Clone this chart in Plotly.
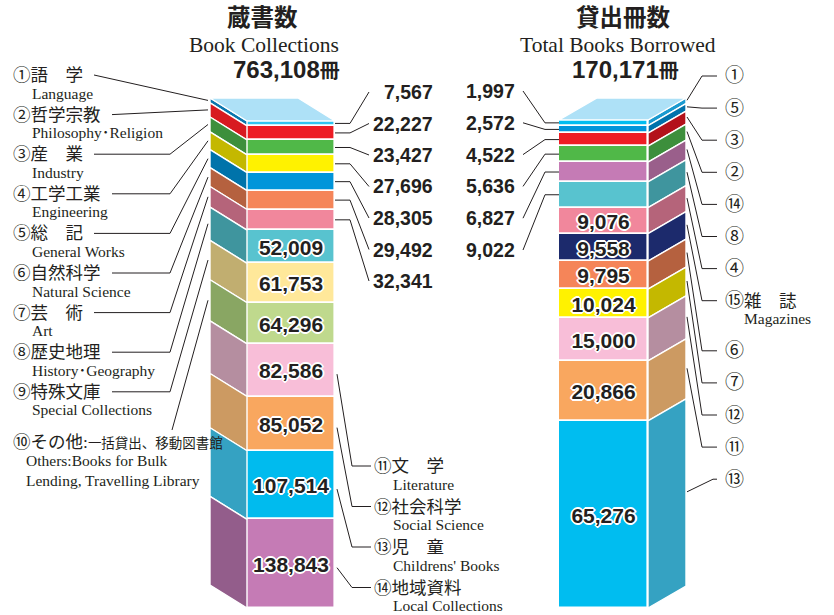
import plotly.graph_objects as go

# ---------------- data ----------------
col_jp = ["①語　学", "②哲学宗教", "③産　業", "④工学工業", "⑤総　記", "⑥自然科学",
          "⑦芸　術", "⑧歴史地理", "⑨特殊文庫", "⑩その他:", "⑪文　学", "⑫社会科学",
          "⑬児　童", "⑭地域資料"]
col_en = ["Language", "Philosophy･Religion", "Industry", "Engineering", "General Works",
          "Natural Science", "Art", "History･Geography", "Special Collections",
          "Others:Books for Bulk<br>Lending, Travelling Library", "Literature",
          "Social Science", "Childrens' Books", "Local Collections"]
col_jp_extra = "一括貸出、移動図書館"
col_values = [7567, 22227, 23427, 27696, 28305, 29492, 32341, 52009, 61753, 64296,
              82586, 85052, 107514, 138843]

bor_labels = ["①", "⑤", "③", "②", "⑭", "⑧", "④", "⑮", "⑥", "⑦", "⑫", "⑪", "⑬"]
bor_extra_jp = "雑　誌"
bor_extra_en = "Magazines"
bor_values = [1997, 2572, 4522, 5636, 6827, 9022, 9076, 9558, 9795, 10024, 15000,
              20866, 65276]

titles_jp = ["蔵書数", "貸出冊数"]
titles_en = ["Book Collections", "Total Books Borrowed"]
unit = "冊"

# ---------------- style ----------------
col_front = ["#2ec4f1", "#ed1c24", "#50b848", "#fff200", "#0095da", "#f58559", "#f1879c",
             "#58c3cf", "#ffe89a", "#bfd98d", "#f8bed8", "#f9a75f", "#00bbee", "#c57bb5"]
col_side = ["#0a76ae", "#d81a21", "#3d8f3c", "#c4b800", "#0073aa", "#b5613f", "#b5647a",
            "#3f959e", "#c1ae70", "#89a663", "#b58ea0", "#cc9a62", "#35a2c2", "#935d8b"]
bor_front = ["#00bdf0", "#0095da", "#ed1c24", "#50b848", "#c57bb5", "#58c3cf", "#f1879c",
             "#1c2a6c", "#f58559", "#fff200", "#f8bed8", "#f9a75f", "#00bdf0"]
bor_side = ["#1a9ad0", "#0072ab", "#b3111a", "#3d8f3c", "#9a5f8b", "#3f959e", "#b5647a",
            "#1c2a6c", "#b5613f", "#c4b800", "#b58ea0", "#cc9a62", "#35a2c2"]
TOPCOL = "#aee1f7"
INK = "#231f20"

W, H = 834, 615
BOT = 608
L_TOP, L_FL, L_FR, L_DX, L_DYPX = 121, 247, 335, -37, 23
R_TOP, R_FL, R_FR, R_DX, R_DYPX = 120, 559, 648, 38, 22

NUM_FONT = "Liberation Sans, Arial, sans-serif"
SERIF = "Liberation Serif, Noto Sans CJK JP, serif"
CJK = "Noto Sans CJK JP, sans-serif"
HALO = "1px 1px 0 #fff, -1px -1px 0 #fff, 1px -1px 0 #fff, -1px 1px 0 #fff, 0 2px 0 #fff, 0 -2px 0 #fff, 2px 0 0 #fff, -2px 0 0 #fff"


def paper(p):
    return 1 - p / H


def stack(values):
    total = sum(values)
    bases, cum = [], 0
    for v in values:
        cum += v
        bases.append(total - cum)
    return total, bases


TL, basesL = stack(col_values)
TR, basesR = stack(bor_values)
sL = TL / (BOT - L_TOP)
sR = TR / (BOT - R_TOP)
dyL = L_DYPX * sL
dyR = R_DYPX * sR


def vL(p):
    return (BOT - p) * sL


def vR(p):
    return (BOT - p) * sR


fig = go.Figure()

# ---- front faces (bars) ----
fig.add_trace(go.Bar(x=[(L_FL + L_FR) / 2] * len(col_values), y=col_values, base=basesL,
                     width=L_FR - L_FL, marker=dict(color=col_front, line=dict(color="white", width=1.6)),
                     yaxis="y", hoverinfo="skip", showlegend=False))
fig.add_trace(go.Bar(x=[(R_FL + R_FR) / 2] * len(bor_values), y=bor_values, base=basesR,
                     width=R_FR - R_FL, marker=dict(color=bor_front, line=dict(color="white", width=1.6)),
                     yaxis="y2", hoverinfo="skip", showlegend=False))


# ---- side faces + top faces ----
def side_faces(values, bases, colors, xf, dx, dy, yax):
    for v, b, c in zip(values, bases, colors):
        fig.add_trace(go.Scatter(x=[xf, xf, xf + dx, xf + dx, xf], y=[b, b + v, b + v + dy, b + dy, b],
                                 fill="toself", fillcolor=c, mode="lines",
                                 line=dict(color="white", width=1.4), yaxis=yax,
                                 hoverinfo="skip", showlegend=False))


side_faces(col_values, basesL, col_side, L_FL, L_DX, dyL, "y")
side_faces(bor_values, basesR, bor_side, R_FR, R_DX, dyR, "y2")

fig.add_trace(go.Scatter(x=[L_FL, L_FR, L_FR + L_DX, L_FL + L_DX, L_FL], y=[TL, TL, TL + dyL, TL + dyL, TL],
                         fill="toself", fillcolor=TOPCOL, mode="lines", line=dict(color="white", width=1.4),
                         yaxis="y", hoverinfo="skip", showlegend=False))
fig.add_trace(go.Scatter(x=[R_FL, R_FR, R_FR + R_DX, R_FL + R_DX, R_FL], y=[TR, TR, TR + dyR, TR + dyR, TR],
                         fill="toself", fillcolor=TOPCOL, mode="lines", line=dict(color="white", width=1.4),
                         yaxis="y2", hoverinfo="skip", showlegend=False))

ann = []


def A(text, x, p, size, family=SERIF, xanchor="left", weight=None, color=INK, align="left"):
    f = dict(size=size, family=family, color=color)
    if weight:
        f["weight"] = weight
    ann.append(dict(text=text, x=x, y=paper(p), xref="x", yref="paper", showarrow=False,
                    xanchor=xanchor, yanchor="middle", font=f, align=align, borderpad=0))


# ---- titles ----
A(titles_jp[0], 262, 16, 23.5, CJK, "center", 700)
A(titles_en[0], 188, 45, 21.5, SERIF, "left")
A(f"{TL:,}<span style='font-family:Noto Sans CJK JP;font-size:20px'>{unit}</span>", 286, 70, 24, NUM_FONT, "center", 700)
A(titles_jp[1], 623, 16, 23.5, CJK, "center", 700)
A(titles_en[1], 519, 45, 21.5, SERIF, "left")
A(f"{TR:,}<span style='font-family:Noto Sans CJK JP;font-size:20px'>{unit}</span>", 625, 70, 24, NUM_FONT, "center", 700)

# ---- left bar: leader lines ----
lx, ly = [], []
midL = [b + v / 2 for v, b in zip(col_values, basesL)]
endL_x = L_FL + L_DX - 2

for i in range(9):
    p = 75 + 39.6 * i
    A(col_jp[i], 12, p, 17.5)
    A(col_en[i], 31, p + 18, 15.5)
    x0 = 12 + 18 * len(col_jp[i]) + 10
    if i < 2:
        lx += [x0, endL_x, None]
        ly += [vL(p), midL[i] + dyL, None]
    else:
        lx += [x0, 170, endL_x, None]
        ly += [vL(p), vL(p), midL[i] + dyL, None]
# ⑩
A(col_jp[9] + f"<span style='font-family:Noto Sans CJK JP;font-size:13.5px'>{col_jp_extra}</span>", 12, 442, 17.5)
A(col_en[9], 25, 470, 15.5)
lx += [172, endL_x, None]
ly += [vL(430), midL[9] + dyL, None]

# value labels right of left bar (small segments)
for i in range(7):
    p = 92 + 31.5 * i
    A(f"{col_values[i]:,}", 434, p, 19.5, NUM_FONT, "right", 700)
    lx += [L_FR, L_FR + 15, 369, None]
    ly += [midL[i], midL[i], vL(p), None]

# ⑪-⑭ labels bottom right
for k, i in enumerate(range(10, 14)):
    p = 466 + 40.5 * k
    A(col_jp[i], 373, p, 17.5)
    A(col_en[i], 392, p + 18, 15.5)
    lx += [L_FR + 2, 352, 371, None]
    ly += [midL[i] - 4 * sL, vL(p), vL(p), None]

fig.add_trace(go.Scatter(x=lx, y=ly, mode="lines", line=dict(color=INK, width=1), yaxis="y",
                         hoverinfo="skip", showlegend=False))

# inside numbers left
fig.add_trace(go.Scatter(x=[(L_FL + L_FR) / 2] * 7, y=[m - 3 * sL for m in midL[7:]],
                         text=[f"{v:,}" for v in col_values[7:]], mode="text",
                         textfont=dict(family=NUM_FONT, size=21, color=INK, weight=700, shadow=HALO),
                         yaxis="y", hoverinfo="skip", showlegend=False))

# ---- right bar ----
rx, ry = [], []
midR = [b + v / 2 for v, b in zip(bor_values, basesR)]
endR_x = R_FR + R_DX + 1
for i in range(6):
    p = 91 + 31.8 * i
    A(f"{bor_values[i]:,}", 516, p, 19.5, NUM_FONT, "right", 700)
    rx += [523, 545, R_FL, None]
    ry += [vR(p), midR[i], midR[i], None]

for i, lab in enumerate(bor_labels):
    p = 76 + 32.1 * i + (18 if i > 7 else 0)
    A(lab, 724, p, 19)
    knee = 713 if i == len(bor_labels) - 1 else 702
    rx += [717, knee, endR_x, None]
    ry += [vR(p), vR(p), midR[i] + dyR * (endR_x - R_FR) / R_DX, None]
    if lab == "⑮":
        A(bor_extra_jp, 743, p, 17.5)
        A(bor_extra_en, 743, p + 18, 15.5)

fig.add_trace(go.Scatter(x=rx, y=ry, mode="lines", line=dict(color=INK, width=1), yaxis="y2",
                         hoverinfo="skip", showlegend=False))

fig.add_trace(go.Scatter(x=[(R_FL + R_FR) / 2] * 7, y=[m - 3 * sR for m in midR[6:]],
                         text=[f"{v:,}" for v in bor_values[6:]], mode="text",
                         textfont=dict(family=NUM_FONT, size=21, color=INK, weight=700, shadow=HALO),
                         yaxis="y2", hoverinfo="skip", showlegend=False))

fig.update_layout(
    width=W, height=H, margin=dict(l=0, r=0, t=0, b=0),
    paper_bgcolor="white", plot_bgcolor="white", barmode="overlay", bargap=0,
    xaxis=dict(range=[0, W], visible=False, fixedrange=True),
    yaxis=dict(range=[(BOT - H) * sL, BOT * sL], visible=False, fixedrange=True),
    yaxis2=dict(range=[(BOT - H) * sR, BOT * sR], visible=False, fixedrange=True, overlaying="y"),
    annotations=ann, showlegend=False,
)
fig.write_html("out.html", config={"displayModeBar": False},
               post_script="document.body.style.margin='0';document.body.style.overflow='hidden';")
